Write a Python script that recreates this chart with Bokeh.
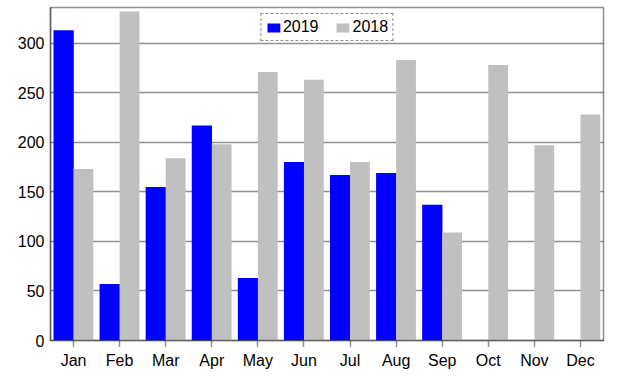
from bokeh.plotting import figure
from bokeh.models import ColumnDataSource, FactorRange, Range1d, FixedTicker
from bokeh.transform import dodge
from bokeh.embed import file_html
from bokeh.resources import INLINE

months = ["Jan", "Feb", "Mar", "Apr", "May", "Jun", "Jul", "Aug", "Sep", "Oct", "Nov", "Dec"]
v2019 = [313, 57, 155, 217, 63, 180, 167, 169, 137, 0, 0, 0]
v2018 = [173, 332, 184, 198, 271, 263, 180, 283, 109, 278, 197, 228]
yticks = [0, 50, 100, 150, 200, 250, 300]

src = ColumnDataSource(dict(m=months, a=v2019, b=v2018))

p = figure(x_range=FactorRange(*months, range_padding=0), y_range=Range1d(0, 336),
           width=606, height=371, output_backend="svg", toolbar_location=None,
           min_border_left=50, min_border_right=3, min_border_top=7, min_border_bottom=31)

p.vbar(x=dodge("m", -0.215, range=p.x_range), top="a", width=0.44, source=src,
       fill_color="#0000FF", line_color=None, legend_label="2019")
p.vbar(x=dodge("m", 0.215, range=p.x_range), top="b", width=0.43, source=src,
       fill_color="#C0C0C0", line_color=None, legend_label="2018")

dark = "#222222"
p.outline_line_color=dark
p.outline_line_dash="1 1"
p.outline_line_width=1.5
p.xgrid.grid_line_color=None
p.ygrid.grid_line_color=dark
p.ygrid.grid_line_dash="1 1"
p.ygrid.grid_line_width=1.5

for ax in (p.xaxis, p.yaxis):
    ax.axis_line_color=dark
    ax.axis_line_dash="1 1"
    ax.axis_line_width=1.5
    ax.major_label_text_font="Liberation Sans"
    ax.major_label_text_font_size="16px"
    ax.major_label_text_color="#000000"
    ax.minor_tick_line_color=None
p.xaxis.major_tick_line_color=dark
p.xaxis.major_tick_line_dash="1 1"
p.xaxis.major_tick_line_width=1.5
p.xaxis.major_tick_out=6
p.xaxis.major_tick_in=0
p.xaxis.major_label_standoff=5
p.yaxis.major_tick_line_color=None
p.yaxis.major_tick_out=0
p.yaxis.major_tick_in=0
p.yaxis.major_label_standoff=6
p.yaxis.ticker = FixedTicker(ticks=yticks)

p.legend.location="top_center"
p.legend.orientation="horizontal"
p.legend.border_line_color=dark
p.legend.border_line_dash="1 1"
p.legend.border_line_width=1.5
p.legend.label_text_font="Liberation Sans"
p.legend.label_text_font_size="16px"
p.legend.label_text_color="#000000"
p.legend.glyph_width=16
p.legend.glyph_height=11
p.legend.label_standoff=2
p.legend.spacing=16
p.legend.padding=4
p.legend.margin=6
p.legend.label_height=16
p.legend.background_fill_alpha=1

open("out.html", "w").write(file_html(p, INLINE))
